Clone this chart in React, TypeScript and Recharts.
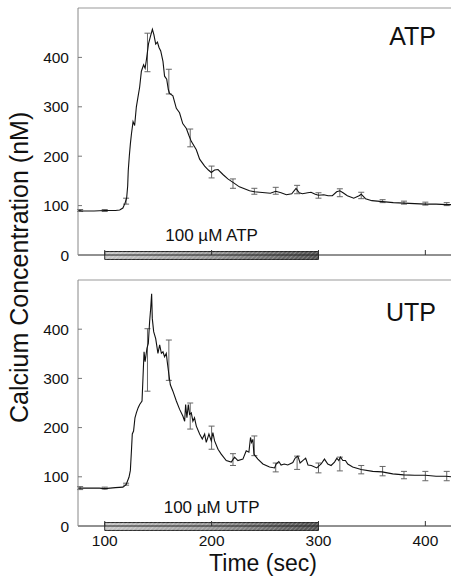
import React from 'react';
import { LineChart, Line, XAxis, YAxis, ErrorBar, ReferenceArea } from 'recharts';

// ---------- ATP panel ----------
const atpTime = [75, 80, 90, 100, 110, 114, 117, 119, 120.5, 121.5, 122, 123, 124, 125, 126.5, 128, 129.6, 131, 132.7, 134.3, 136.4, 137.8, 139, 141, 142.6, 144.6, 146, 147.7, 149.3, 150.8, 152.4, 154.5, 156, 158, 159.5, 160.7, 163.8, 167, 170, 173, 176.4, 178.8, 181, 185.7, 188.8, 193.5, 197, 199.7, 202.8, 206, 210.6, 215.2, 220, 226, 235.5, 240, 250, 255, 260, 265, 270, 275, 279, 282, 285, 290, 293, 297, 300, 305, 309, 313, 317, 320, 323, 327, 333, 338, 340, 344, 350, 355, 360, 370, 380, 390, 400, 410, 420, 424];
const atpValue = [90, 89, 89, 90, 90, 91, 95, 105, 115, 140, 170, 200, 225, 245, 270, 262, 300, 318, 340, 372, 385, 378, 395, 428, 441, 457, 446, 427, 431, 420, 413, 392, 362, 356, 335, 327, 322, 297, 288, 266, 256, 242, 230, 213, 194, 180, 172, 167, 172, 173, 163, 154, 147, 138, 130, 128, 126, 125, 129, 126, 122, 124, 135, 126, 124, 126, 127, 123, 121, 122, 120, 120, 128, 130, 126, 120, 115, 120, 123, 114, 110, 109, 108, 106, 105, 104, 103, 103, 102, 102];
const atpErrTime = [77, 100, 120, 140, 160, 180, 200, 220, 240, 260, 280, 300, 320, 340, 360, 380, 400, 420];
const atpErrMean = [90, 90, 110, 410, 351, 237, 168, 145, 129, 130, 132, 120, 126, 120, 109, 106, 104, 103];
const atpErrLow = [88, 88, 103, 371, 326, 219, 156, 135, 123, 123, 124, 115, 118, 114, 106, 103, 101, 100];
const atpErrHigh = [92, 92, 115, 449, 376, 255, 180, 154, 135, 137, 141, 126, 134, 127, 112, 109, 107, 106];

// ---------- UTP panel ----------
const utpTime = [75, 85, 95, 100, 110, 117, 120, 122.7, 124, 125, 125.8, 127, 128.3, 129.6, 131.2, 132.7, 134.9, 135.8, 136.8, 137.8, 139.5, 140.8, 142, 143, 143.9, 144.5, 145.8, 147.7, 149.8, 151.4, 153, 154.5, 156, 157.6, 158.5, 160.1, 161.4, 163.8, 167, 170.1, 173.2, 174.8, 175.7, 176.9, 178.2, 179.4, 181, 182.5, 184, 185.7, 188.8, 191.3, 193.5, 195, 197.5, 199.7, 201.2, 202.8, 206, 209, 213.7, 218.4, 221.5, 224.6, 229.3, 232.4, 234.9, 236.4, 237.4, 238.6, 239.6, 243.3, 248, 254.2, 258.9, 260.4, 262.9, 265, 268, 271.3, 276, 278.2, 280.7, 282.8, 285.3, 288, 290.2, 293.3, 298.4, 302.5, 305.6, 308.7, 311.8, 315, 317.2, 319, 320.6, 322.8, 325.2, 327.4, 332, 339.9, 350.8, 359.5, 369.5, 379.7, 390, 400, 410, 419.3, 424];
const utpValue = [77, 77, 77, 76, 78, 79, 84, 99, 113, 153, 187, 193, 220, 230, 240, 247, 254, 301, 354, 334, 361, 371, 415, 442, 472, 422, 395, 381, 351, 368, 351, 354, 344, 351, 334, 307, 287, 274, 254, 237, 223, 213, 247, 220, 247, 227, 230, 213, 220, 203, 187, 177, 187, 170, 187, 173, 190, 173, 156, 146, 133, 130, 140, 133, 136, 153, 150, 180, 170, 176, 146, 136, 126, 120, 118, 126, 131, 124, 126, 124, 129, 138, 142, 128, 133, 138, 124, 123, 118, 126, 136, 126, 123, 130, 138, 133, 140, 133, 133, 126, 120, 115, 111, 110, 106, 104, 103, 103, 101, 101, 100];
const utpErrTime = [77, 100, 120, 140, 160, 180, 200, 220, 240, 260, 280, 300, 320, 340, 360, 380, 400, 420];
const utpErrMean = [77, 77, 85, 338, 337, 224, 180, 135, 162, 119, 128, 118, 126, 115, 111, 104, 102, 101];
const utpErrLow = [74, 75, 83, 274, 296, 197, 156, 123, 143, 110, 115, 108, 112, 106, 102, 96, 92, 92];
const utpErrHigh = [80, 79, 87, 401, 378, 250, 203, 147, 183, 128, 142, 128, 140, 123, 121, 111, 111, 111];

// ---------- axes / annotations ----------
const xTicks = [100, 200, 300, 400];
const yTicks = [0, 100, 200, 300, 400];
const xDomain = [75, 424];
const yDomain = [0, 500];
const stimStart = 100;
const stimEnd = 300;
const stimLow = -9;
const stimHigh = 7;
const atpStimLabel = '100 µM ATP';
const utpStimLabel = '100 µM UTP';
const atpTitle = 'ATP';
const utpTitle = 'UTP';
const xTitle = 'Time (sec)';
const yTitle = 'Calcium Concentration (nM)';

const FONT = '"Liberation Sans", Arial, Helvetica, sans-serif';

const toSeries = (t: number[], v: number[]) => t.map((x, i) => ({ t: x, v: v[i] }));
const toErr = (t: number[], m: number[], lo: number[], hi: number[]) =>
  t.map((x, i) => ({ t: x, v: m[i], e: [m[i] - lo[i], hi[i] - m[i]] }));

const atpData = toSeries(atpTime, atpValue);
const atpErr = toErr(atpErrTime, atpErrMean, atpErrLow, atpErrHigh);
const utpData = toSeries(utpTime, utpValue);
const utpErr = toErr(utpErrTime, utpErrMean, utpErrLow, utpErrHigh);

const YTick = (props: any) => {
  const { x, y, payload } = props;
  return (
    <g>
      {payload.value !== 0 && <line x1={x} x2={x + 4} y1={y} y2={y} stroke="#777" />}
      <text x={x - 9} y={y} dy="0.36em" textAnchor="end" fontSize={15.5} fontFamily={FONT} fill="#111">
        {payload.value}
      </text>
    </g>
  );
};

const XTickTop = (props: any) => {
  const { x, y } = props;
  return <line x1={x} x2={x} y1={y} y2={y - 5} stroke="#333" />;
};

const XTickBottom = (props: any) => {
  const { x, y, payload } = props;
  return (
    <g>
      <line x1={x} x2={x} y1={y} y2={y - 5} stroke="#333" />
      <text x={x} y={y + 20} textAnchor="middle" fontSize={15.5} fontFamily={FONT} fill="#111">
        {payload.value}
      </text>
    </g>
  );
};

const Defs = ({ id }: { id: string }) => (
  <defs>
    <linearGradient id={`grad${id}`} x1="0" y1="0" x2="1" y2="0">
      <stop offset="0%" stopColor="#c8c8c8" />
      <stop offset="50%" stopColor="#9a9a9a" />
      <stop offset="100%" stopColor="#505050" />
    </linearGradient>
    <pattern id={`hatch${id}`} width="3" height="3" patternUnits="userSpaceOnUse" patternTransform="rotate(45)">
      <line x1="0" y1="0" x2="0" y2="3" stroke="#ffffff" strokeWidth="1" strokeOpacity="0.5" />
    </pattern>
  </defs>
);

const Panel = ({
  data, err, id, stimLabel, labelOffset, height, bottomMargin, xAxisHeight, bottomAxis,
}: any) => (
  <LineChart width={451} height={height} margin={{ top: 7, right: 0, bottom: bottomMargin, left: 0 }}>
    <Defs id={id} />
    <XAxis
      type="number"
      dataKey="t"
      domain={xDomain}
      ticks={xTicks}
      allowDataOverflow
      height={xAxisHeight}
      axisLine={{ stroke: '#222', strokeWidth: 1 }}
      tickLine={false}
      tickSize={0}
      tickMargin={0}
      interval={0}
      tick={bottomAxis ? <XTickBottom /> : <XTickTop />}
    />
    <XAxis
      xAxisId="frame"
      orientation="top"
      type="number"
      dataKey="t"
      domain={xDomain}
      allowDataOverflow
      height={1}
      axisLine={{ stroke: '#999', strokeWidth: 1 }}
      tickLine={false}
      tick={false}
    />
    <YAxis
      type="number"
      domain={yDomain}
      ticks={yTicks}
      allowDataOverflow
      width={78}
      axisLine={{ stroke: '#888', strokeWidth: 1 }}
      tickLine={false}
      tickSize={0}
      tickMargin={0}
      interval={0}
      tick={<YTick />}
    />
    <ReferenceArea
      x1={stimStart}
      x2={stimEnd}
      y1={stimLow}
      y2={stimHigh}
      ifOverflow="visible"
      fill={`url(#grad${id})`}
      fillOpacity={1}
      stroke="#222"
      strokeWidth={1}
      label={{ value: stimLabel, position: 'top', offset: labelOffset, fontSize: 17, fill: '#111', fontFamily: FONT }}
    />
    <ReferenceArea
      x1={stimStart}
      x2={stimEnd}
      y1={stimLow}
      y2={stimHigh}
      ifOverflow="visible"
      fill={`url(#hatch${id})`}
      fillOpacity={1}
      stroke="none"
    />
    <Line data={err} dataKey="v" stroke="none" dot={false} isAnimationActive={false} legendType="none">
      <ErrorBar dataKey="e" width={3} stroke="#666" strokeWidth={1} direction="y" isAnimationActive={false} />
    </Line>
    <Line
      data={data}
      dataKey="v"
      type="linear"
      stroke="#111"
      strokeWidth={1.1}
      dot={false}
      isAnimationActive={false}
    />
  </LineChart>
);

export default function App() {
  return (
    <div style={{ position: 'absolute', left: 0, top: 0, width: 451, height: 579, background: '#fff', overflow: 'hidden' }}>
      <div style={{ position: 'absolute', left: 0, top: 0 }}>
        <Panel data={atpData} err={atpErr} id="A" stimLabel={atpStimLabel} labelOffset={11}
          height={265} bottomMargin={9} xAxisHeight={1} bottomAxis={false} />
      </div>
      <div style={{ position: 'absolute', left: 0, top: 272 }}>
        <Panel data={utpData} err={utpErr} id="U" stimLabel={utpStimLabel} labelOffset={10}
          height={307} bottomMargin={0} xAxisHeight={53} bottomAxis={true} />
      </div>
      <svg width={451} height={579} style={{ position: 'absolute', left: 0, top: 0, pointerEvents: 'none' }}>
        <text x={436} y={45} textAnchor="end" fontSize={25} fontFamily={FONT} fill="#111">{atpTitle}</text>
        <text x={436} y={321} textAnchor="end" fontSize={25} fontFamily={FONT} fill="#111">{utpTitle}</text>
        <text x={263} y={571} textAnchor="middle" fontSize={23} fontFamily={FONT} fill="#111">{xTitle}</text>
        <text transform="translate(28, 423) rotate(-90)" textAnchor="start" fontSize={25} fontFamily={FONT} fill="#111">{yTitle}</text>
      </svg>
    </div>
  );
}
